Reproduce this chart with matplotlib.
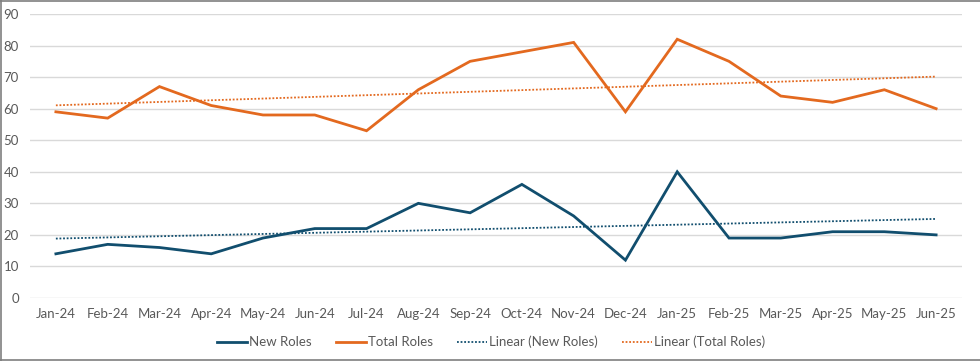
import numpy as np
import matplotlib.pyplot as plt
from matplotlib.lines import Line2D

months = ["Jan-24", "Feb-24", "Mar-24", "Apr-24", "May-24", "Jun-24", "Jul-24", "Aug-24", "Sep-24",
          "Oct-24", "Nov-24", "Dec-24", "Jan-25", "Feb-25", "Mar-25", "Apr-25", "May-25", "Jun-25"]
new_roles = [14, 17, 16, 14, 19, 22, 22, 30, 27, 36, 26, 12, 40, 19, 19, 21, 21, 20]
total_roles = [59, 57, 67, 61, 58, 58, 53, 66, 75, 78, 81, 59, 82, 75, 64, 62, 66, 60]

blue = "#114E6E"
orange = "#E3691F"
plt.rcParams["font.family"] = ["Lato", "DejaVu Sans"]

x = np.arange(len(months))
fig = plt.figure(figsize=(9.8, 3.61), dpi=100)
ax = fig.add_axes([30/980, 1-298/361, 932/980, 284/361])

ax.plot(x, new_roles, color=blue, lw=2.0, solid_joinstyle="miter", label="New Roles", zorder=3)
ax.plot(x, total_roles, color=orange, lw=2.0, solid_joinstyle="miter", label="Total Roles", zorder=3)
# excel-style linear trendlines
p_new = np.polyfit(x, new_roles, 1)
p_tot = np.polyfit(x, total_roles, 1)
ax.plot(x, np.polyval(p_new, x), color=blue, lw=1.3, ls=(0, (1, 1)), label="Linear (New Roles)", zorder=2)
ax.plot(x, np.polyval(p_tot, x), color=orange, lw=1.3, ls=(0, (1, 1)), label="Linear (Total Roles)", zorder=2)

ax.set_ylim(0, 90)
ax.set_yticks(range(0, 91, 10))
ax.set_xlim(-0.5, len(months) - 0.5)
ax.set_xticks(x)
ax.set_xticklabels(months)
ax.grid(axis="y", color="#D9D9D9", lw=1)
ax.set_axisbelow(True)
for s in ax.spines.values():
    s.set_visible(False)
ax.tick_params(length=0, labelsize=9.5, colors="#595959", pad=7)
ax.tick_params(axis="y", pad=8)

handles = [Line2D([], [], color=blue, lw=2.0), Line2D([], [], color=orange, lw=2.0),
           Line2D([], [], color=blue, lw=1.3, ls=(0, (1, 1))), Line2D([], [], color=orange, lw=1.3, ls=(0, (1, 1)))]
labels = ["New Roles", "Total Roles", "Linear (New Roles)", "Linear (Total Roles)"]
leg = fig.legend(handles, labels, loc="center", bbox_to_anchor=(491/980, 1-342/361), ncol=4,
                 frameon=False, fontsize=9.5, handlelength=2.3, handletextpad=0.15, columnspacing=1.8)
for t in leg.get_texts():
    t.set_color("#595959")

# chart border
for xs, ys in [([0.001, 0.001], [0, 1]), ([0, 1], [0.998, 0.998]), ([0, 1], [0.004, 0.004])]:
    fig.add_artist(Line2D(xs, ys, color="#7F7F7F", lw=1.2, transform=fig.transFigure))

fig.savefig("out.png", dpi=100)
